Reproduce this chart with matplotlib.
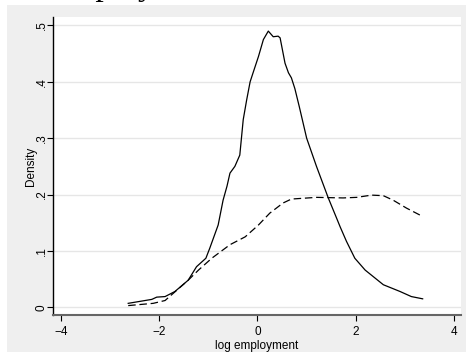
import numpy as np
import matplotlib.pyplot as plt
from matplotlib.patches import Rectangle

# density of log employment
x_solid = [-2.63, -2.15, -2.05, -1.88, -1.68, -1.41, -1.24, -1.05, -0.97, -0.80,
           -0.70, -0.62, -0.56, -0.46, -0.36, -0.29, -0.22, -0.15, -0.09, 0.02,
           0.12, 0.22, 0.25, 0.32, 0.42, 0.46, 0.56, 0.63, 0.69, 0.76,
           0.85, 1.00, 1.20, 1.44, 1.61, 1.68, 1.81, 1.98, 2.19, 2.56,
           2.90, 3.13, 3.36]
y_solid = [0.007, 0.014, 0.018, 0.019, 0.028, 0.048, 0.072, 0.087, 0.105, 0.146,
           0.190, 0.215, 0.238, 0.250, 0.270, 0.333, 0.368, 0.400, 0.416, 0.445,
           0.475, 0.490, 0.487, 0.480, 0.481, 0.478, 0.433, 0.416, 0.407, 0.388,
           0.356, 0.300, 0.250, 0.194, 0.158, 0.143, 0.117, 0.087, 0.066, 0.040,
           0.028, 0.019, 0.015]

x_dash = [-2.63, -2.12, -1.88, -1.71, -1.41, -1.20, -0.93, -0.56, -0.25, 0.02,
          0.25, 0.52, 0.69, 1.20, 1.74, 2.02, 2.32, 2.56, 2.76, 3.03, 3.34]
y_dash = [0.003, 0.007, 0.012, 0.025, 0.048, 0.066, 0.087, 0.111, 0.125, 0.146,
          0.167, 0.185, 0.192, 0.195, 0.194, 0.195, 0.199, 0.198, 0.190, 0.176,
          0.162]

xticks = [-4, -2, 0, 2, 4]
yticks = [0, 0.1, 0.2, 0.3, 0.4, 0.5]
ytick_labels = ['0', '.1', '.2', '.3', '.4', '.5']

plt.rcParams['font.family'] = ['Liberation Sans', 'DejaVu Sans']

fig = plt.figure(figsize=(4.67, 3.58), dpi=100)
fig.patch.set_facecolor('white')

# stata graph region
fig.patches.append(Rectangle((7 / 467, 6 / 358), 459 / 467, 347 / 358,
                             transform=fig.transFigure, facecolor='#efefef',
                             edgecolor='none', zorder=-1))

# cut-off caption above the graph
fig.text(49 / 467, 363 / 358, 'Employment', family='Liberation Serif',
         fontsize=24, va='baseline', ha='left')

ax = fig.add_axes([53 / 467, 43 / 358, 408 / 467, 298 / 358])
ax.set_zorder(1)
ax.set_facecolor('white')

ax.plot(x_solid, y_solid, color='black', lw=0.9)
ax.plot(x_dash, y_dash, color='black', lw=0.9, dashes=(6, 3))

ax.set_xlim(-4.16, 4.14)
ax.set_ylim(-0.0137, 0.515)
ax.set_xticks(xticks)
ax.set_yticks(yticks)
ax.set_yticklabels(ytick_labels, rotation=90, va='center')

ax.grid(axis='y', color='#e6e6e6', lw=1.0)
ax.set_axisbelow(True)

for s in ['top', 'right']:
    ax.spines[s].set_visible(False)
ax.spines['left'].set_color('black')
ax.spines['left'].set_linewidth(1.0)
ax.spines['bottom'].set_color('#666666')
ax.spines['bottom'].set_linewidth(1.5)

ax.tick_params(axis='both', labelsize=8.5, length=4, width=0.8, colors='black')
ax.tick_params(axis='x', pad=4)
ax.tick_params(axis='y', pad=0)

ax.set_xlabel('log employment', fontsize=8.5, labelpad=1)
ax.set_ylabel('Density', fontsize=8.5, labelpad=-1)

fig.savefig('out.png', dpi=100)
